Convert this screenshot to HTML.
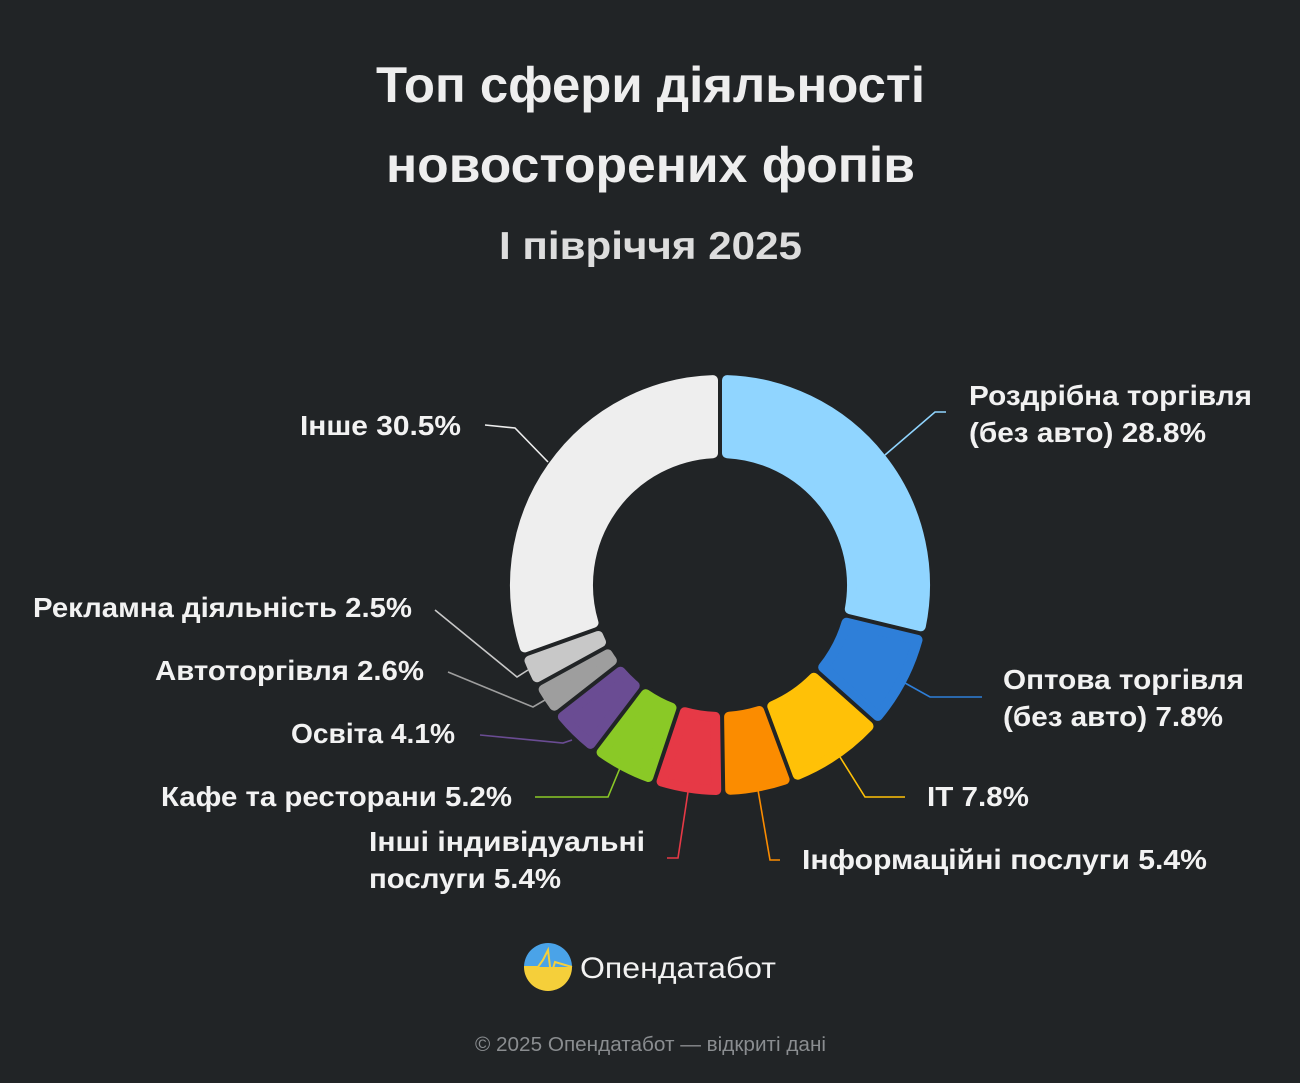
<!DOCTYPE html>
<html><head><meta charset="utf-8"><style>
body{margin:0;background:#212426;width:1300px;height:1083px;overflow:hidden;font-family:"Liberation Sans","DejaVu Sans",sans-serif}
svg{position:absolute;left:0;top:0}
</style></head><body>
<svg id="s" width="1300" height="1083" viewBox="0 0 1300 1083">
<g lengthAdjust="spacingAndGlyphs">
<text x="376" y="102" fill="#eeeeee" font-size="50" font-weight="bold" textLength="549" lengthAdjust="spacingAndGlyphs">Топ сфери діяльності</text>
<text x="386" y="182" fill="#eeeeee" font-size="50" font-weight="bold" textLength="529" lengthAdjust="spacingAndGlyphs">новосторених фопів</text>
<text x="499" y="259" fill="#dddddd" font-size="39" font-weight="bold" textLength="303" lengthAdjust="spacingAndGlyphs">І півріччя 2025</text>
</g>
<g id="segs"></g>
<g fill="none" stroke-width="1.6">
<polyline points="885,455 935,412 946,412" stroke="#90d5ff"/>
<polyline points="905,683 930,697 982,697" stroke="#2e7fd9"/>
<polyline points="840,757 865,797 905,797" stroke="#ffc107"/>
<polyline points="758,790 770,860 780,860" stroke="#fb8c00"/>
<polyline points="688,792 678,858 667,858" stroke="#e63946"/>
<polyline points="620,768 608,797 535,797" stroke="#8ac926"/>
<polyline points="572,740 563,743 480,735" stroke="#6a4c93"/>
<polyline points="545,700 533,707 448,672" stroke="#9e9e9e"/>
<polyline points="528,670 517,677 435,610" stroke="#c8c8c8"/>
<polyline points="548,462 515,428 485,425" stroke="#eeeeee"/>
</g>
<g fill="#f2f2f2" font-size="28" font-weight="bold">
<text x="969" y="405" textLength="283" lengthAdjust="spacingAndGlyphs">Роздрібна торгівля</text>
<text x="969" y="442" textLength="237" lengthAdjust="spacingAndGlyphs">(без авто) 28.8%</text>
<text x="1003" y="689" textLength="241" lengthAdjust="spacingAndGlyphs">Оптова торгівля</text>
<text x="1003" y="726" textLength="220" lengthAdjust="spacingAndGlyphs">(без авто) 7.8%</text>
<text x="927" y="806" textLength="102" lengthAdjust="spacingAndGlyphs">IT 7.8%</text>
<text x="802" y="869" textLength="405" lengthAdjust="spacingAndGlyphs">Інформаційні послуги 5.4%</text>
<text x="369" y="851" textLength="276" lengthAdjust="spacingAndGlyphs">Інші індивідуальні</text>
<text x="369" y="888" textLength="192" lengthAdjust="spacingAndGlyphs">послуги 5.4%</text>
<text x="161" y="806" textLength="351" lengthAdjust="spacingAndGlyphs">Кафе та ресторани 5.2%</text>
<text x="291" y="743" textLength="164" lengthAdjust="spacingAndGlyphs">Освіта 4.1%</text>
<text x="155" y="680" textLength="269" lengthAdjust="spacingAndGlyphs">Автоторгівля 2.6%</text>
<text x="33" y="617" textLength="379" lengthAdjust="spacingAndGlyphs">Рекламна діяльність 2.5%</text>
<text x="300" y="435" textLength="161" lengthAdjust="spacingAndGlyphs">Інше 30.5%</text>
</g>
<defs><linearGradient id="lg" x1="0" y1="0" x2="0" y2="1"><stop offset="0.5" stop-color="#4aa3e8"/><stop offset="0.5" stop-color="#f5cf3a"/></linearGradient></defs>
<circle cx="548" cy="967" r="24" fill="url(#lg)"/>
<polyline points="524,967 538,967 543,960 548,950 551,975 555,962 572,967" fill="none" stroke="#f5cf3a" stroke-width="2"/>
<text x="580" y="978" fill="#f2f2f2" font-size="30" textLength="196" lengthAdjust="spacingAndGlyphs">Опендатабот</text>
<text x="475" y="1051" fill="#8a8d90" font-size="20" textLength="351" lengthAdjust="spacingAndGlyphs">© 2025 Опендатабот — відкриті дані</text>
</svg>
<script>
var data=[[28.8,"#90d5ff"],[7.8,"#2e7fd9"],[7.8,"#ffc107"],[5.4,"#fb8c00"],[5.4,"#e63946"],[5.2,"#8ac926"],[4.1,"#6a4c93"],[2.6,"#9e9e9e"],[2.5,"#c8c8c8"],[30.5,"#eeeeee"]];
var cx=720,cy=585,R=205,r=132,off=7,tot=100.1,a=0,g=document.getElementById("segs"),h="";
function p(rad,ang){return (cx+rad*Math.sin(ang)).toFixed(1)+","+(cy-rad*Math.cos(ang)).toFixed(1)}
data.forEach(function(d){var a0=a/tot*2*Math.PI,a1=(a+d[0])/tot*2*Math.PI;a+=d[0];
var o0=a0+off/R,o1=a1-off/R,i0=a0+off/r,i1=a1-off/r,lg=(a1-a0)>Math.PI?1:0;
h+='<path d="M'+p(R,o0)+' A'+R+','+R+' 0 '+lg+' 1 '+p(R,o1)+' L'+p(r,i1)+' A'+r+','+r+' 0 '+lg+' 0 '+p(r,i0)+' Z" fill="'+d[1]+'" stroke="'+d[1]+'" stroke-width="10" stroke-linejoin="round"/>';});
g.innerHTML=h;
</script>
</body></html>
